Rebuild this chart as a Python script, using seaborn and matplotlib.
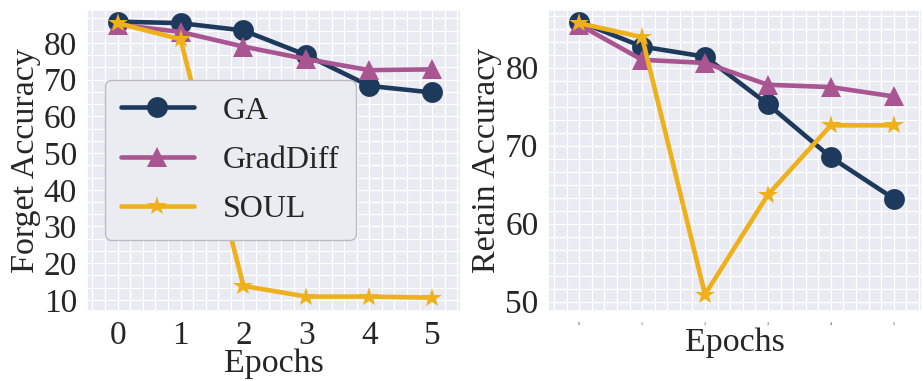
import matplotlib
matplotlib.use("Agg")
import matplotlib.pyplot as plt
from matplotlib.ticker import AutoMinorLocator
import seaborn as sns
import pandas as pd

# ── Data ───────────────────────────────────────────────────────────────────
EPOCHS   = [0, 1, 2, 3, 4, 5]
METHODS  = ["GA", "GradDiff", "SOUL"]

forget_ga       = [85.8, 85.4, 83.4, 76.7, 68.3, 66.5]
forget_graddiff = [85.0, 83.0, 79.0, 75.6, 72.6, 72.8]
forget_soul     = [85.4, 81.0, 13.8, 10.9, 10.9, 10.6]

retain_ga       = [85.9, 82.7, 81.4, 75.3, 68.5, 63.2]
retain_graddiff = [85.5, 81.0, 80.6, 77.8, 77.5, 76.3]
retain_soul     = [85.7, 83.9, 50.9, 63.7, 72.6, 72.6]

COLORS  = {"GA": "#1d3a5c", "GradDiff": "#a95592", "SOUL": "#eeb01b"}
MARKERS = {"GA": "o", "GradDiff": "^", "SOUL": "*"}


def to_long(series):
    rows = []
    for name, vals in zip(METHODS, series):
        for e, v in zip(EPOCHS, vals):
            rows.append({"Epochs": e, "Method": name, "Acc": v})
    return pd.DataFrame(rows)


df_forget = to_long([forget_ga, forget_graddiff, forget_soul])
df_retain = to_long([retain_ga, retain_graddiff, retain_soul])

# ── Style ──────────────────────────────────────────────────────────────────
sns.set_theme(style="darkgrid")
plt.rcParams["font.family"] = ["Liberation Serif", "DejaVu Serif"]
plt.rcParams["axes.unicode_minus"] = False

fig, axes = plt.subplots(1, 2, figsize=(9.23, 3.81), dpi=100)
fig.subplots_adjust(left=0.094, right=0.999, bottom=0.184, top=0.974, wspace=0.235)


def draw(ax, df, ylabel, legend):
    sns.lineplot(data=df, x="Epochs", y="Acc", hue="Method", style="Method",
                 palette=COLORS, markers=MARKERS, dashes=False,
                 linewidth=3.3, markersize=15, markeredgewidth=0,
                 legend=legend, ax=ax)
    ax.set_xlim(-0.49, 5.45)
    ax.set_xticks(EPOCHS)
    ax.xaxis.set_minor_locator(AutoMinorLocator(5))
    ax.grid(which="major", color="white", linewidth=0.9)
    ax.grid(which="minor", color="white", linewidth=0.9)
    ax.set_ylabel(ylabel, fontsize=24.5, labelpad=2)
    ax.tick_params(axis="y", labelsize=24, pad=1)


draw(axes[0], df_forget, "Forget Accuracy", True)
axes[0].set_xlabel("Epochs", fontsize=24.5, labelpad=-2)
axes[0].set_ylim(7, 89)
axes[0].set_yticks([10, 20, 30, 40, 50, 60, 70, 80])
axes[0].yaxis.set_minor_locator(AutoMinorLocator(3))
axes[0].tick_params(axis="x", labelsize=24, pad=1)
leg = axes[0].legend(loc="lower left", bbox_to_anchor=(0.048, 0.236),
                     borderaxespad=0, fontsize=23, handlelength=2.3,
                     frameon=True, facecolor="#ebebf2", edgecolor="#bbbbbb",
                     framealpha=1.0, borderpad=0.5, labelspacing=0.62,
                     handletextpad=0.9)
leg.get_frame().set_linewidth(1.0)

draw(axes[1], df_retain, "Retain Accuracy", False)
axes[1].set_xlabel("Epochs", fontsize=24.5, labelpad=1)
axes[1].set_ylim(48.8, 87.4)
axes[1].set_yticks([50, 60, 70, 80])
axes[1].yaxis.set_minor_locator(AutoMinorLocator(6))
axes[1].tick_params(axis="x", labelsize=3, pad=2)

plt.savefig("out.png", dpi=100)
plt.close()
